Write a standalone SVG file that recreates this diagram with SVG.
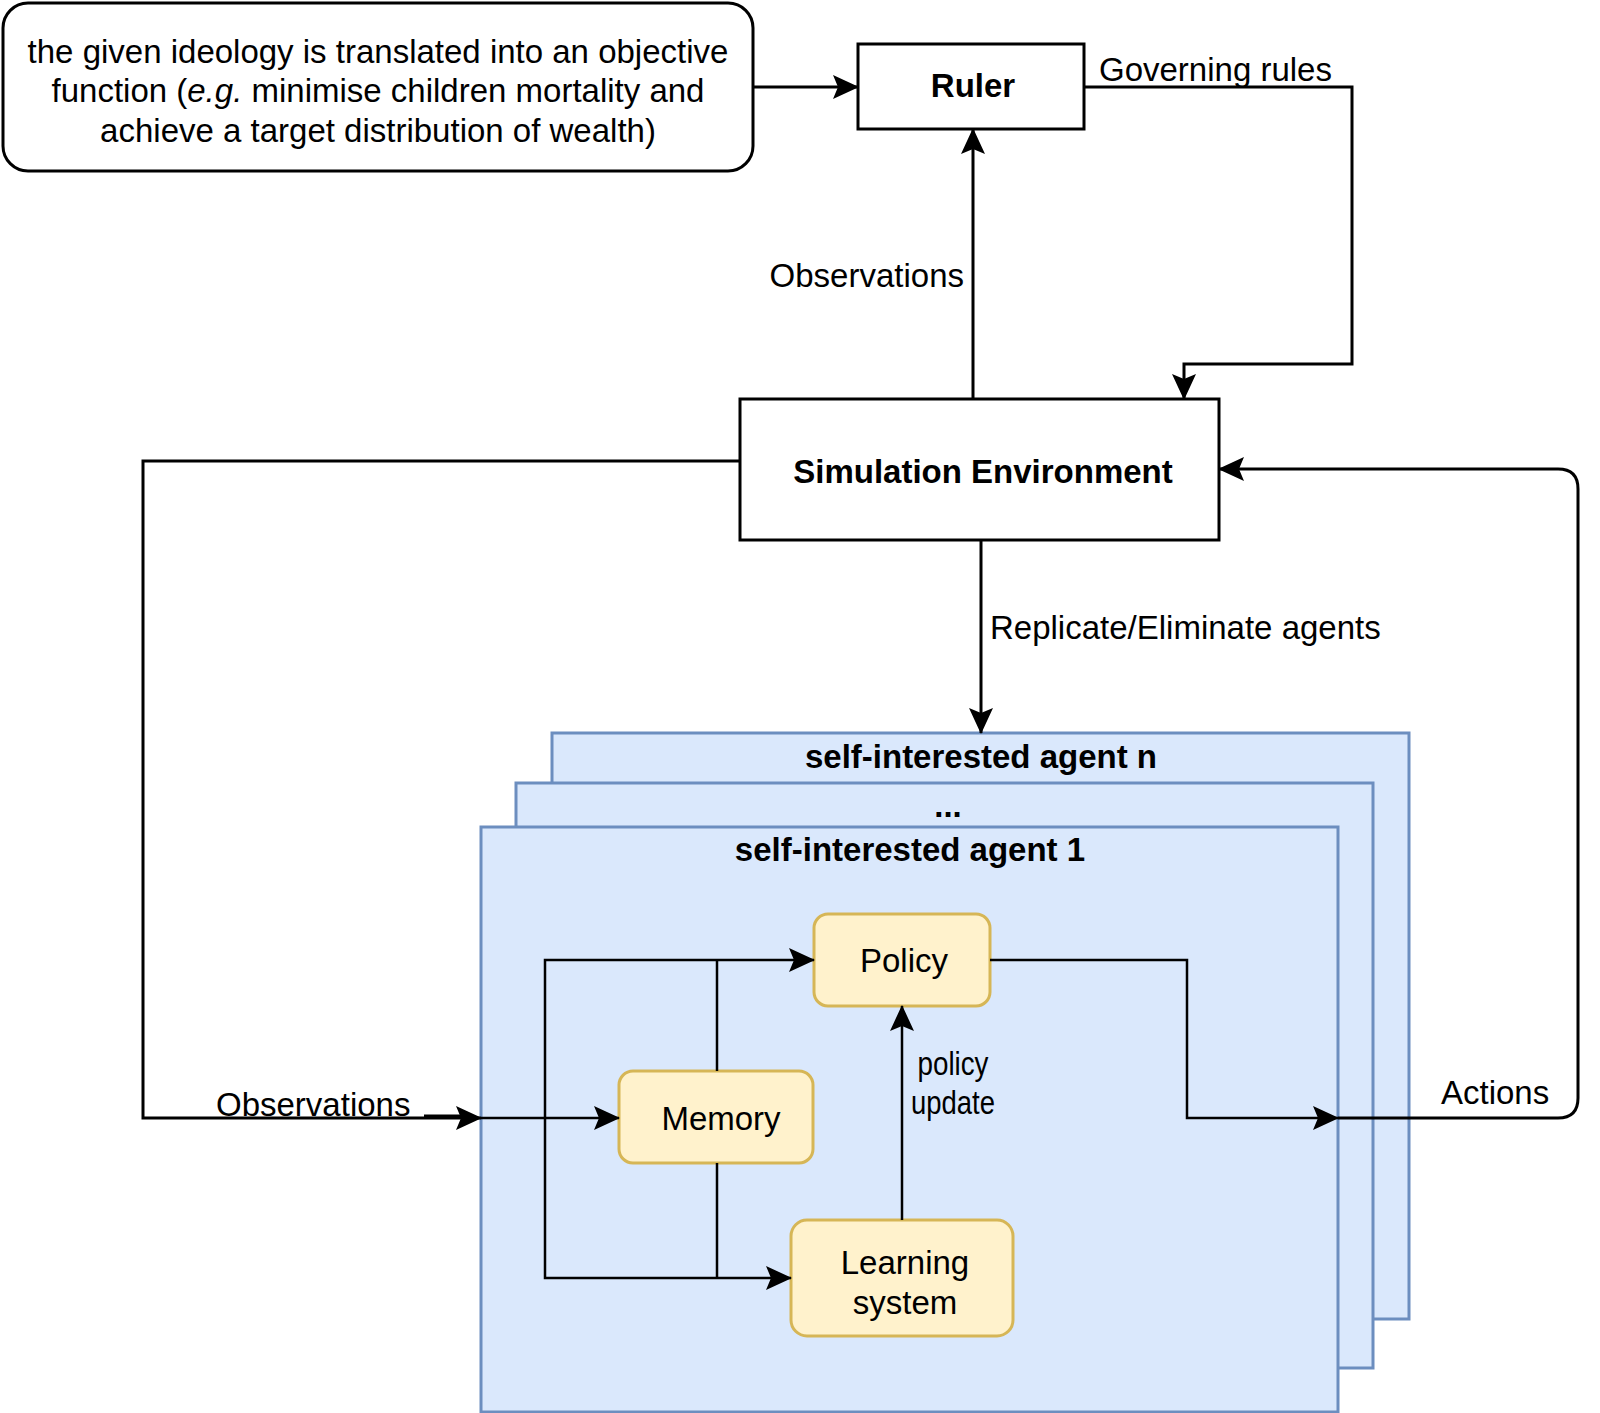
<svg xmlns="http://www.w3.org/2000/svg" width="1600" height="1413" viewBox="0 0 1600 1413">
<style>
text{font-family:"Liberation Sans",Arial,Helvetica,sans-serif;fill:#000;font-size:33px}
.b{font-weight:bold}
.c{text-anchor:middle}
.box{fill:#fff;stroke:#000;stroke-width:3}
.agent{fill:#dae8fc;stroke:#6c8ebf;stroke-width:3}
.comp{fill:#fff2cc;stroke:#d6b656;stroke-width:3}
.e{fill:none;stroke:#000;stroke-width:3}
.ei{fill:none;stroke:#000;stroke-width:2.5}
</style>
<defs>
<marker id="arr" viewBox="0 0 26 24" markerWidth="26" markerHeight="24" refX="25" refY="12" orient="auto" markerUnits="userSpaceOnUse">
<path d="M0,0 L26,12 L0,24 L5,12 Z" fill="#000"/>
</marker>
</defs>
<rect width="1600" height="1413" fill="#fff"/>
<g id="ideology">
<rect class="box" x="3" y="3" width="750" height="168" rx="25"/>
<text class="c" x="378" y="63">the given ideology is translated into an objective</text>
<text class="c" x="378" y="102">function (<tspan font-style="italic">e.g.</tspan> minimise children mortality and</text>
<text class="c" x="378" y="142">achieve a target distribution of wealth)</text>
</g>
<g id="ruler">
<rect class="box" x="858" y="44" width="226" height="85"/>
<text class="c b" x="973" y="97">Ruler</text>
</g>
<g id="sim">
<rect class="box" x="740" y="399" width="479" height="141"/>
<text class="c b" x="983" y="483">Simulation Environment</text>
</g>
<g id="agent-n">
<rect class="agent" x="552" y="733" width="857" height="586"/>
<text class="c b" x="981" y="768">self-interested agent n</text>
</g>
<g id="agent-mid">
<rect class="agent" x="516" y="783" width="857" height="585"/>
<text class="c b" x="948" y="817">...</text>
</g>
<g id="agent-1">
<rect class="agent" x="481" y="827" width="857" height="585"/>
<text class="c b" x="910" y="861">self-interested agent 1</text>
</g>
<g id="policy">
<rect class="comp" x="814" y="914" width="176" height="92" rx="14"/>
<text class="c" x="904" y="972">Policy</text>
</g>
<g id="memory">
<rect class="comp" x="619" y="1071" width="194" height="92" rx="14"/>
<text class="c" x="721" y="1130">Memory</text>
</g>
<g id="learning">
<rect class="comp" x="791" y="1220" width="222" height="116" rx="16"/>
<text class="c" x="905" y="1274">Learning</text>
<text class="c" x="905" y="1314">system</text>
</g>
<g id="connectors">
<path class="e" d="M753,87 L858,87" marker-end="url(#arr)"/>
<path class="e" d="M1084,87 L1352,87 L1352,364 L1184,364 L1184,399" marker-end="url(#arr)"/>
<path class="e" d="M973,399 L973,129" marker-end="url(#arr)"/>
<path class="e" d="M981,540 L981,733" marker-end="url(#arr)"/>
<path class="e" d="M740,461 L143,461 L143,1118 L481,1118" marker-end="url(#arr)"/>
<path class="e" d="M424,1116 L470,1116"/>
<path class="ei" d="M481,1118 L619,1118" marker-end="url(#arr)"/>
<path class="ei" d="M545,1118 L545,960 L814,960" marker-end="url(#arr)"/>
<path class="ei" d="M545,1118 L545,1278 L791,1278" marker-end="url(#arr)"/>
<path class="ei" d="M717,1071 L717,960"/>
<path class="ei" d="M717,1163 L717,1278"/>
<path class="ei" d="M902,1220 L902,1006" marker-end="url(#arr)"/>
<path class="ei" d="M990,960 L1187,960 L1187,1118 L1338,1118" marker-end="url(#arr)"/>
<path class="e" d="M1338,1118 L1558,1118 Q1578,1118 1578,1098 L1578,489 Q1578,469 1558,469 L1219,469" marker-end="url(#arr)"/>
<text x="1099" y="81">Governing rules</text>
<text x="964" y="287" text-anchor="end">Observations</text>
<text x="990" y="639">Replicate/Eliminate agents</text>
<text x="216" y="1116">Observations</text>
<text x="1441" y="1104">Actions</text>
<text class="c" x="953" y="1075" font-size="27" textLength="71" lengthAdjust="spacingAndGlyphs">policy</text>
<text class="c" x="953" y="1114" font-size="27" textLength="84" lengthAdjust="spacingAndGlyphs">update</text>
</g>
</svg>
